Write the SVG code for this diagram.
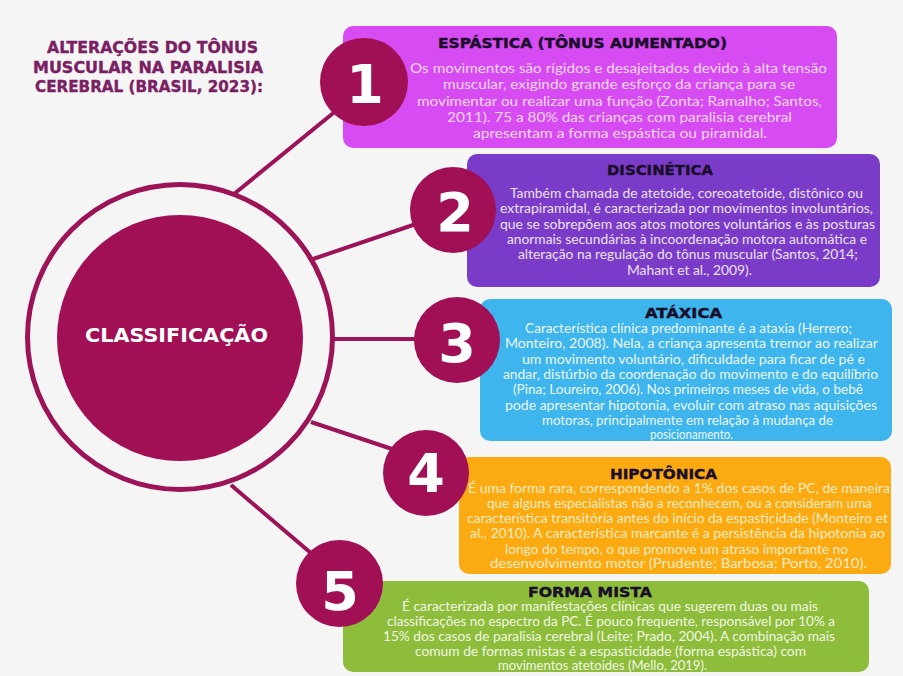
<svg xmlns="http://www.w3.org/2000/svg" width="903" height="676" viewBox="0 0 903 676">
<style>
.bg{fill:#f5f5f6}
.dot{fill:#a10f55}
.ring{fill:none;stroke:#9c1457;stroke-width:5}
.con{stroke:#9c1457;stroke-width:4;fill:none;stroke-linecap:butt}
.num{font-family:"DejaVu Sans","Liberation Sans",sans-serif;font-weight:bold;font-size:54px;fill:#ffffff;text-anchor:middle}
.title{font-family:"DejaVu Sans","Liberation Sans",sans-serif;font-weight:bold;font-size:16px;fill:#7b1f63;stroke:#7b1f63;stroke-width:0.4}
.head{font-family:"DejaVu Sans","Liberation Sans",sans-serif;font-weight:bold;font-size:14px;fill:#1a0e2a;stroke:#1a0e2a;stroke-width:0.4}
.body{font-family:Lato,"Open Sans",sans-serif;font-size:12.5px}
.center{font-family:"DejaVu Sans","Liberation Sans",sans-serif;font-weight:bold;font-size:20px;fill:#ffffff}
</style>
<rect class="bg" x="0" y="0" width="903" height="676"/>

<g id="title">
<text class="title" x="47" y="53" textLength="211" lengthAdjust="spacingAndGlyphs">ALTERAÇÕES DO TÔNUS</text>
<text class="title" x="33" y="73" textLength="230" lengthAdjust="spacingAndGlyphs">MUSCULAR NA PARALISIA</text>
<text class="title" x="35" y="92" textLength="228" lengthAdjust="spacingAndGlyphs">CEREBRAL (BRASIL, 2023):</text>
</g>

<g id="box1">
<rect x="343" y="26" width="494" height="122" rx="10" fill="#d74cf2"/>
<text class="head" x="438" y="48" textLength="289" lengthAdjust="spacingAndGlyphs">ESPÁSTICA (TÔNUS AUMENTADO)</text>
<g class="body" fill="#f7d6fb">
<text x="410" y="73" textLength="417" lengthAdjust="spacingAndGlyphs">Os movimentos são rígidos e desajeitados devido à alta tensão</text>
<text x="443" y="89" textLength="352" lengthAdjust="spacingAndGlyphs">muscular, exigindo grande esforço da criança para se</text>
<text x="417" y="106" textLength="405" lengthAdjust="spacingAndGlyphs">movimentar ou realizar uma função (Zonta; Ramalho; Santos,</text>
<text x="447" y="122" textLength="345" lengthAdjust="spacingAndGlyphs">2011). 75 a 80% das crianças com paralisia cerebral</text>
<text x="473" y="138" textLength="294" lengthAdjust="spacingAndGlyphs">apresentam a forma espástica ou piramidal.</text>
</g>
</g>

<g id="box2">
<rect x="467" y="154" width="413" height="133" rx="10" fill="#7a3cc8"/>
<text class="head" x="607" y="175" textLength="106" lengthAdjust="spacingAndGlyphs">DISCINÉTICA</text>
<g class="body" fill="#ebe0f7">
<text x="510" y="198" textLength="353" lengthAdjust="spacingAndGlyphs">Também chamada de atetoide, coreoatetoide, distônico ou</text>
<text x="500" y="213" textLength="373" lengthAdjust="spacingAndGlyphs">extrapiramidal, é caracterizada por movimentos involuntários,</text>
<text x="500" y="229" textLength="375" lengthAdjust="spacingAndGlyphs">que se sobrepõem aos atos motores voluntários e às posturas</text>
<text x="507" y="244" textLength="360" lengthAdjust="spacingAndGlyphs">anormais secundárias à incoordenação motora automática e</text>
<text x="518" y="259" textLength="340" lengthAdjust="spacingAndGlyphs">alteração na regulação do tônus muscular (Santos, 2014;</text>
<text x="627" y="275" textLength="125" lengthAdjust="spacingAndGlyphs">Mahant et al., 2009).</text>
</g>
</g>

<g id="box3">
<rect x="480" y="299" width="412" height="142" rx="10" fill="#3eb5ec"/>
<text class="head" x="645" y="318" textLength="77" lengthAdjust="spacingAndGlyphs">ATÁXICA</text>
<g class="body" fill="#eaf6fd">
<text x="525" y="333" textLength="327" lengthAdjust="spacingAndGlyphs">Característica clínica predominante é a ataxia (Herrero;</text>
<text x="505" y="348" textLength="373" lengthAdjust="spacingAndGlyphs">Monteiro, 2008). Nela, a criança apresenta tremor ao realizar</text>
<text x="522" y="364" textLength="343" lengthAdjust="spacingAndGlyphs">um movimento voluntário, dificuldade para ficar de pé e</text>
<text x="503" y="379" textLength="375" lengthAdjust="spacingAndGlyphs">andar, distúrbio da coordenação do movimento e do equilíbrio</text>
<text x="513" y="394" textLength="350" lengthAdjust="spacingAndGlyphs">(Pina; Loureiro, 2006). Nos primeiros meses de vida, o bebê</text>
<text x="505" y="410" textLength="372" lengthAdjust="spacingAndGlyphs">pode apresentar hipotonia, evoluir com atraso nas aquisições</text>
<text x="542" y="425" textLength="291" lengthAdjust="spacingAndGlyphs">motoras, principalmente em relação à mudança de</text>
<text x="650" y="439" textLength="83" lengthAdjust="spacingAndGlyphs">posicionamento.</text>
</g>
</g>

<g id="box4">
<rect x="459" y="457" width="432" height="117" rx="10" fill="#fbaa12"/>
<text class="head" x="610" y="479" textLength="107" lengthAdjust="spacingAndGlyphs">HIPOTÔNICA</text>
<g class="body" fill="#fdebc0">
<text x="468" y="493" textLength="422" lengthAdjust="spacingAndGlyphs">É uma forma rara, correspondendo a 1% dos casos de PC, de maneira</text>
<text x="487" y="508" textLength="385" lengthAdjust="spacingAndGlyphs">que alguns especialistas não a reconhecem, ou a consideram uma</text>
<text x="467" y="523" textLength="421" lengthAdjust="spacingAndGlyphs">característica transitória antes do início da espasticidade (Monteiro et</text>
<text x="470" y="538" textLength="415" lengthAdjust="spacingAndGlyphs">al., 2010). A característica marcante é a persistência da hipotonia ao</text>
<text x="505" y="554" textLength="343" lengthAdjust="spacingAndGlyphs">longo do tempo, o que promove um atraso importante no</text>
<text x="490" y="568" textLength="377" lengthAdjust="spacingAndGlyphs">desenvolvimento motor (Prudente; Barbosa; Porto, 2010).</text>
</g>
</g>

<g id="box5">
<rect x="343" y="581" width="526" height="91" rx="10" fill="#8dbd3a"/>
<text class="head" x="528" y="597" textLength="124" lengthAdjust="spacingAndGlyphs">FORMA MISTA</text>
<g class="body" fill="#f0f7e1">
<text x="402" y="611" textLength="416" lengthAdjust="spacingAndGlyphs">É caracterizada por manifestações clínicas que sugerem duas ou mais</text>
<text x="387" y="626" textLength="448" lengthAdjust="spacingAndGlyphs">classificações no espectro da PC. É pouco frequente, responsável por 10% a</text>
<text x="383" y="641" textLength="452" lengthAdjust="spacingAndGlyphs">15% dos casos de paralisia cerebral (Leite; Prado, 2004). A combinação mais</text>
<text x="415" y="656" textLength="391" lengthAdjust="spacingAndGlyphs">comum de formas mistas é a espasticidade (forma espástica) com</text>
<text x="498" y="670" textLength="209" lengthAdjust="spacingAndGlyphs">movimentos atetoides (Mello, 2019).</text>
</g>
</g>

<g id="connectors">
<line class="con" x1="234" y1="194" x2="337" y2="110"/>
<line class="con" x1="313" y1="259" x2="416" y2="224"/>
<line class="con" x1="334" y1="339" x2="418" y2="339"/>
<line class="con" x1="311" y1="422" x2="395" y2="450"/>
<line class="con" x1="231" y1="485" x2="312" y2="554"/>
</g>

<g id="classificacao">
<circle class="ring" cx="180" cy="337" r="152.5"/>
<circle class="dot" cx="180" cy="338" r="123"/>
<text class="center" x="85" y="342" textLength="183" lengthAdjust="spacingAndGlyphs">CLASSIFICAÇÃO</text>
</g>

<g id="n1"><circle class="dot" cx="364" cy="82" r="44"/><text class="num" x="365" y="103">1</text></g>
<g id="n2"><circle class="dot" cx="453" cy="210" r="43"/><text class="num" x="455" y="231">2</text></g>
<g id="n3"><circle class="dot" cx="457" cy="340" r="43"/><text class="num" x="457" y="362">3</text></g>
<g id="n4"><circle class="dot" cx="426" cy="473" r="43"/><text class="num" x="426" y="492">4</text></g>
<g id="n5"><circle class="dot" cx="339.5" cy="583.5" r="43.5"/><text class="num" x="340" y="610">5</text></g>
</svg>
